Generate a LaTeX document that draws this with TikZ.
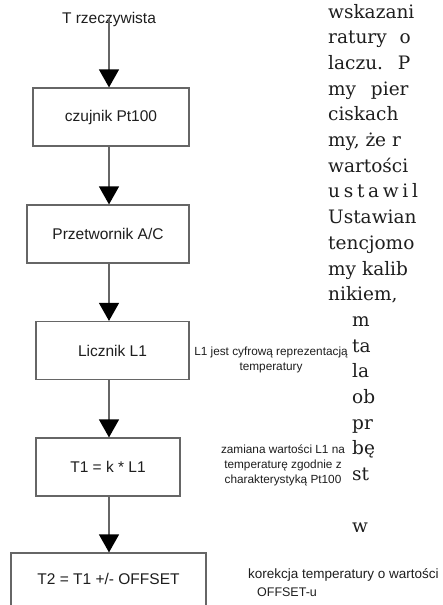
\documentclass[tikz,border=0pt]{standalone}
\usepackage{fontspec}
\setmainfont{Liberation Sans}
\newfontfamily\szeryf{DejaVu Serif}
\usetikzlibrary{arrows.meta}
\definecolor{linia}{HTML}{666666}
\definecolor{tekst}{HTML}{1E1E1E}
\tikzset{
  blok/.style={draw=linia, line width=1.2pt, minimum height=58pt, inner sep=0pt,
    font=\fontsize{15.5}{18}\selectfont, text=tekst},
  opis/.style={align=center, inner sep=0pt, font=\fontsize{11.8}{15}\selectfont, text=tekst},
  strzalka/.style={draw=linia, line width=1.2pt, -{Triangle[width=20pt,length=18pt,color=black]}},
  wiersz/.style={anchor=base west, inner sep=0pt, font=\szeryf\fontsize{18.5}{20}\selectfont, text=tekst}
}
\begin{document}
\begin{tikzpicture}[x=1pt,y=-1pt]
  \useasboundingbox (0,0) rectangle (442,605);
  \clip (0,0) rectangle (442,605);
  \fill[white] (0,0) rectangle (442,605);
  % schemat
  \node[opis, font=\fontsize{15.5}{18}\selectfont] (wejscie) at (109,19) {T rzeczywista};
  \node[blok, minimum width=156pt] (czujnik) at (111,117) {czujnik Pt100};
  \node[blok, minimum width=162pt] (przetwornik) at (108,234) {Przetwornik A/C};
  \node[blok, minimum width=153pt] (licznik) at (112.5,350.5) {Licznik L1};
  \node[blok, minimum width=144pt] (wzor) at (108,467) {T1 = k * L1};
  \node[blok, minimum width=195pt] (korekcja) at (108.5,582) {\raisebox{7pt}{T2 = T1 +/- OFFSET}\hspace{12pt}};
  \draw[strzalka] (wejscie.south) ++(0,-7) coordinate (start) (start) -- (start |- czujnik.north);
  \draw[strzalka] (czujnik.south -| wejscie) -- (przetwornik.north -| wejscie);
  \draw[strzalka] (przetwornik.south -| wejscie) -- (licznik.north -| wejscie);
  \draw[strzalka] (licznik.south -| wejscie) -- (wzor.north -| wejscie);
  \draw[strzalka] (wzor.south -| wejscie) -- (korekcja.north -| wejscie);
  % opisy
  \node[opis] (opisL) at (271,360) {L1 jest cyfrową reprezentacją\\temperatury};
  \node[opis] (opisT) at (283,465) {zamiana wartości L1 na\\temperaturę zgodnie z\\charakterystyką Pt100};
  \node[opis, anchor=west, font=\fontsize{13.5}{16}\selectfont] (opisK) at (248,575) {korekcja temperatury o wartości};
  \node[opis, font=\fontsize{12.5}{15}\selectfont] (opisO) at (287,592) {OFFSET-u};
  % tekst kolumny
  \foreach \n/\x/\t in {0/328/wskazani, 1/328/ratury\hspace{0.7em}o, 2/328/laczu.\hspace{0.8em}P,
      3/328/my\hspace{0.8em}pier, 4/328/ciskach, 5/328/{my, że r}, 6/328/wartości,
      7/328/{\addfontfeature{LetterSpace=20}ustawil}, 8/328/Ustawian, 9/328/tencjomo,
      10/328/my kalib, 11/328/{nikiem,}, 12/352/m, 13/352/ta, 14/352/la, 15/352/ob,
      16/352/pr, 17/352/bę, 18/352/st, 20/352/w}
    \node[wiersz] (w\n) at (\x,18+25.7*\n) {\t};
\end{tikzpicture}
\end{document}
